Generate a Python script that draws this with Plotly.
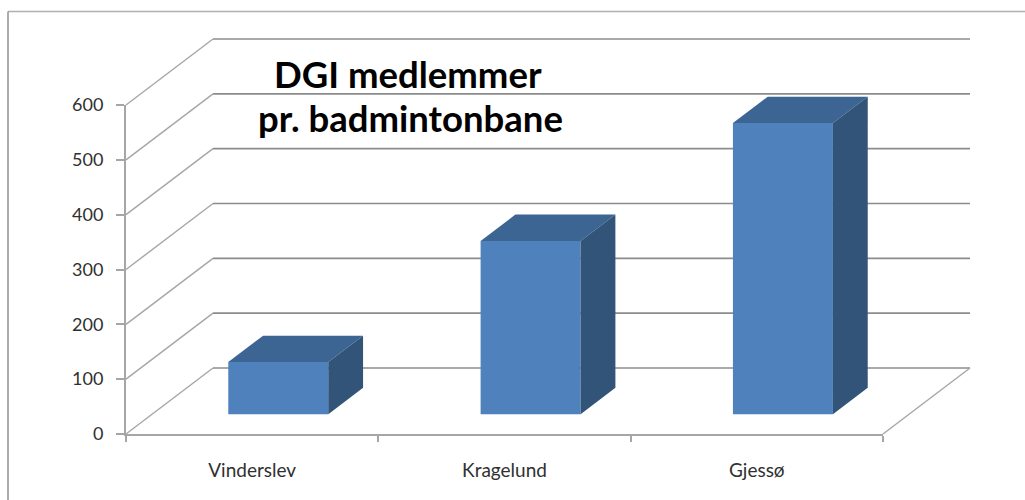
import plotly.graph_objects as go

categories = ["Vinderslev", "Kragelund", "Gjessø"]
values = [95, 316, 531]
y_ticks = [0, 100, 200, 300, 400, 500, 600]
title_lines = ["DGI medlemmer", "pr. badmintonbane"]

W, H = 1025, 500
PLOT_L, PLOT_R, PLOT_T, PLOT_B = 126, 883, 105, 434
X_PX = (PLOT_R - PLOT_L) / 3
Y_PX = (PLOT_B - PLOT_T) / 600
WALL_DX = 87 / X_PX
WALL_DY = 66 / Y_PX
BAR_W = 100 / X_PX
BAR_START = 0.30
BAR_DEPTH = 0.40

FULL_X = [-PLOT_L / X_PX, (W - PLOT_L) / X_PX]
FULL_Y = [-(H - PLOT_B) / Y_PX, PLOT_B / Y_PX]

AXIS = "#a6a6a6"
GRID = "#8c8c8c"
FRONT = "#4f81bd"
TOP = "#3c6594"
SIDE = "#325479"

fig = go.Figure()

# invisible trace so the tick-bearing axes are drawn
fig.add_trace(go.Scatter(x=[0, 3], y=[0, 600], mode="markers", marker=dict(opacity=0), hoverinfo="skip",
                         showlegend=False, xaxis="x", yaxis="y"))


def line(xs, ys, color, width=1.3):
    fig.add_trace(go.Scatter(x=xs, y=ys, mode="lines", hoverinfo="skip", showlegend=False,
                             xaxis="x2", yaxis="y2", line=dict(color=color, width=width)))


for v in y_ticks:
    line([0, WALL_DX], [v, v + WALL_DY], AXIS, 1.4)
    line([WALL_DX, 3 + WALL_DX], [v + WALL_DY, v + WALL_DY], GRID, 1.6)
line([3, 3 + WALL_DX], [0, WALL_DY], AXIS, 1.4)

fx = [i + 0.5 + BAR_START * WALL_DX for i in range(len(values))]
base = BAR_START * WALL_DY
ddx, ddy = BAR_DEPTH * WALL_DX, BAR_DEPTH * WALL_DY

fig.add_trace(go.Bar(x=fx, y=values, base=base, width=BAR_W, marker=dict(color=FRONT, line=dict(width=0)),
                     xaxis="x3", yaxis="y3", showlegend=False, hoverinfo="skip"))

for x, v in zip(fx, values):
    l, r, t = x - BAR_W / 2, x + BAR_W / 2, base + v
    fig.add_trace(go.Scatter(x=[l, r, r + ddx, l + ddx, l], y=[t, t, t + ddy, t + ddy, t], fill="toself",
                             fillcolor=TOP, mode="none", xaxis="x3", yaxis="y3",
                             showlegend=False, hoverinfo="skip"))
    fig.add_trace(go.Scatter(x=[r, r + ddx, r + ddx, r, r], y=[base, base + ddy, t + ddy, t, base], fill="toself",
                             fillcolor=SIDE, mode="none", xaxis="x3", yaxis="y3",
                             showlegend=False, hoverinfo="skip"))

x_font = dict(family="Lato, sans-serif", size=19, color="#303030")
y_font = dict(family="Lato, sans-serif", size=18, color="#303030")
title_font = dict(family="Lato, sans-serif", size=36.5, color="#000000", weight="bold")
hidden = dict(visible=False, fixedrange=True, automargin=False)

fig.update_layout(
    width=W, height=H, autosize=False, showlegend=False,
    margin=dict(l=0, r=0, t=0, b=0, pad=0),
    paper_bgcolor="white", plot_bgcolor="rgba(0,0,0,0)",
    xaxis=dict(domain=[PLOT_L / W, PLOT_R / W], anchor="y", range=[0, 3], tickmode="array",
               tickvals=[i + 0.5 for i in range(3)], ticktext=categories, automargin=False,
               ticks="", showgrid=False, zeroline=False, showline=True, linecolor=AXIS, linewidth=2,
               tickfont=x_font, ticklabelstandoff=18,
               minor=dict(tickmode="array", tickvals=[0, 1, 2, 3], ticks="outside", ticklen=6,
                          tickcolor=AXIS, tickwidth=2, showgrid=False)),
    yaxis=dict(domain=[1 - PLOT_B / H, 1 - PLOT_T / H], anchor="x", range=[0, 600], tickmode="array",
               tickvals=y_ticks, ticks="outside", ticklen=8, automargin=False,
               tickcolor=AXIS, tickwidth=2, showgrid=False, zeroline=False, showline=True,
               linecolor=AXIS, linewidth=2, tickfont=y_font, ticklabelstandoff=9),
    xaxis2=dict(domain=[0, 1], anchor="y2", range=FULL_X, **hidden),
    yaxis2=dict(domain=[0, 1], anchor="x2", range=FULL_Y, **hidden),
    xaxis3=dict(domain=[0, 1], anchor="y3", range=FULL_X, overlaying="x2", **hidden),
    yaxis3=dict(domain=[0, 1], anchor="x3", range=FULL_Y, overlaying="y2", **hidden),
    shapes=[
        dict(type="line", xref="paper", yref="paper", x0=8 / W, x1=1, y0=1 - 11.5 / H, y1=1 - 11.5 / H,
             line=dict(color="#b0b0b0", width=1.5)),
        dict(type="line", xref="paper", yref="paper", x0=8 / W, x1=8 / W, y0=1 - 11.5 / H, y1=0,
             line=dict(color="#909090", width=1.5)),
    ],
    annotations=[
        dict(text=title_lines[0], xref="paper", yref="paper", x=408 / W, y=1 - 74 / H, xanchor="center",
             yanchor="middle", showarrow=False, font=title_font),
        dict(text=title_lines[1], xref="paper", yref="paper", x=410 / W, y=1 - 118 / H, xanchor="center",
             yanchor="middle", showarrow=False, font=title_font),
    ],
)

fig.write_html("out.html", config={"displayModeBar": False},
               post_script="document.body.style.margin='0';document.documentElement.style.overflow='hidden';")
